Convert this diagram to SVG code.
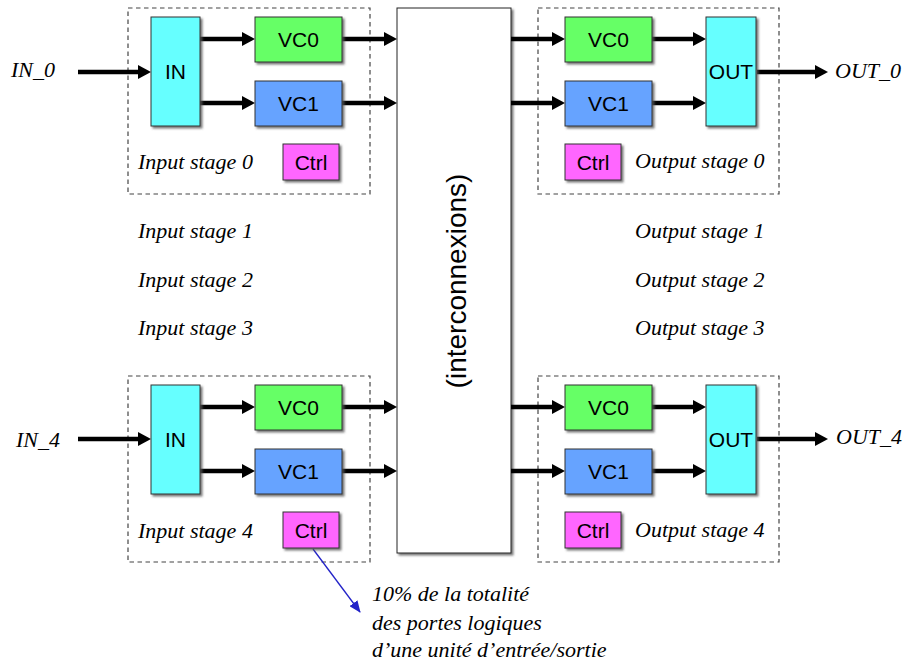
<svg xmlns="http://www.w3.org/2000/svg" width="904" height="662" viewBox="0 0 904 662">
<style>
.box{stroke:#333;stroke-width:1;filter:url(#sh)}
.in{fill:#66FFFF}
.vc0{fill:#66FF66}
.vc1{fill:#66A3FF}
.ctrl{fill:#FF66FF}
.ic{fill:#fff;stroke:#222;stroke-width:1;filter:url(#sh)}
.dash{fill:none;stroke:#444;stroke-width:1.2;stroke-dasharray:4.5,3.5}
.lbl{font-size:21px;fill:#000;text-anchor:middle;dominant-baseline:central}
.it{font-style:italic;font-size:22px;fill:#000}
.arr{stroke:#000;stroke-width:4.5;fill:none;marker-end:url(#ah)}
.note{stroke:#2323C8;stroke-width:1.3;fill:none;marker-end:url(#bh)}
</style>
<defs>
<filter id="sh" x="-20%" y="-20%" width="140%" height="140%">
<feDropShadow dx="2" dy="2" stdDeviation="1" flood-color="#555" flood-opacity="0.8"/>
</filter>
<marker id="ah" markerUnits="userSpaceOnUse" viewBox="0 0 13 14" markerWidth="13" markerHeight="14" refX="3" refY="7" orient="auto">
<path d="M0,0 L13,7 L0,14 z" fill="#000"/>
</marker>
<marker id="bh" markerUnits="userSpaceOnUse" viewBox="0 0 12 10" markerWidth="12" markerHeight="10" refX="11" refY="5" orient="auto">
<path d="M0,0 L12,5 L0,10 z" fill="#2323C8"/>
</marker>
</defs>
<rect width="904" height="662" fill="#fff"/>

<g id="stage-boxes">
<rect class="dash" x="128" y="8" width="242" height="186"/>
<rect class="dash" x="538" y="8" width="241" height="186"/>
<rect class="dash" x="128" y="376" width="242" height="186"/>
<rect class="dash" x="538" y="376" width="241" height="186"/>
</g>

<g id="interconnect" font-family="Liberation Sans, Arial, sans-serif">
<rect class="ic" x="397" y="8" width="114" height="545"/>
<text class="lbl" x="456" y="281" style="font-size:28px" transform="rotate(-90 456 281)">(interconnexions)</text>
</g>

<g id="connectors">
<line class="arr" x1="78" y1="72" x2="141" y2="72"/>
<line class="arr" x1="200" y1="39" x2="245" y2="39"/>
<line class="arr" x1="200" y1="103" x2="245" y2="103"/>
<line class="arr" x1="342" y1="39" x2="387" y2="39"/>
<line class="arr" x1="342" y1="103" x2="387" y2="103"/>
<line class="arr" x1="511" y1="39" x2="555" y2="39"/>
<line class="arr" x1="511" y1="103" x2="555" y2="103"/>
<line class="arr" x1="652" y1="39" x2="696" y2="39"/>
<line class="arr" x1="652" y1="103" x2="696" y2="103"/>
<line class="arr" x1="757" y1="72" x2="818" y2="72"/>

<line class="arr" x1="78" y1="439" x2="141" y2="439"/>
<line class="arr" x1="200" y1="407" x2="245" y2="407"/>
<line class="arr" x1="200" y1="471" x2="245" y2="471"/>
<line class="arr" x1="342" y1="407" x2="387" y2="407"/>
<line class="arr" x1="342" y1="471" x2="387" y2="471"/>
<line class="arr" x1="511" y1="407" x2="555" y2="407"/>
<line class="arr" x1="511" y1="471" x2="555" y2="471"/>
<line class="arr" x1="652" y1="407" x2="696" y2="407"/>
<line class="arr" x1="652" y1="471" x2="696" y2="471"/>
<line class="arr" x1="757" y1="439" x2="818" y2="439"/>

<line class="note" x1="313" y1="549" x2="360" y2="612"/>
</g>

<g id="nodes" font-family="Liberation Sans, Arial, sans-serif">
<g id="in0"><rect class="box in" x="151" y="17" width="49" height="109"/><text class="lbl" x="175.5" y="71.5">IN</text></g>
<g id="in0-vc0"><rect class="box vc0" x="255" y="17" width="87" height="45"/><text class="lbl" x="298.5" y="39.5">VC0</text></g>
<g id="in0-vc1"><rect class="box vc1" x="255" y="81" width="87" height="45"/><text class="lbl" x="298.5" y="103.5">VC1</text></g>
<g id="in0-ctrl"><rect class="box ctrl" x="283" y="144" width="56" height="36"/><text class="lbl" x="311" y="162">Ctrl</text></g>

<g id="out0-vc0"><rect class="box vc0" x="565" y="17" width="87" height="45"/><text class="lbl" x="608.5" y="39.5">VC0</text></g>
<g id="out0-vc1"><rect class="box vc1" x="565" y="81" width="87" height="45"/><text class="lbl" x="608.5" y="103.5">VC1</text></g>
<g id="out0"><rect class="box in" x="706" y="17" width="50" height="109"/><text class="lbl" x="731" y="71.5">OUT</text></g>
<g id="out0-ctrl"><rect class="box ctrl" x="565" y="144" width="56" height="36"/><text class="lbl" x="593" y="162">Ctrl</text></g>

<g id="in4"><rect class="box in" x="151" y="385" width="49" height="109"/><text class="lbl" x="175.5" y="439.5">IN</text></g>
<g id="in4-vc0"><rect class="box vc0" x="255" y="385" width="87" height="45"/><text class="lbl" x="298.5" y="407.5">VC0</text></g>
<g id="in4-vc1"><rect class="box vc1" x="255" y="449" width="87" height="45"/><text class="lbl" x="298.5" y="471.5">VC1</text></g>
<g id="in4-ctrl"><rect class="box ctrl" x="283" y="512" width="56" height="36"/><text class="lbl" x="311" y="530">Ctrl</text></g>

<g id="out4-vc0"><rect class="box vc0" x="565" y="385" width="87" height="45"/><text class="lbl" x="608.5" y="407.5">VC0</text></g>
<g id="out4-vc1"><rect class="box vc1" x="565" y="449" width="87" height="45"/><text class="lbl" x="608.5" y="471.5">VC1</text></g>
<g id="out4"><rect class="box in" x="706" y="385" width="50" height="109"/><text class="lbl" x="731" y="439.5">OUT</text></g>
<g id="out4-ctrl"><rect class="box ctrl" x="565" y="512" width="56" height="36"/><text class="lbl" x="593" y="530">Ctrl</text></g>
</g>

<g id="labels" font-family="Liberation Serif, Times New Roman, serif">
<text class="it" x="11" y="77">IN_0</text>
<text class="it" x="16" y="447">IN_4</text>
<text class="it" x="835" y="78">OUT_0</text>
<text class="it" x="836" y="444">OUT_4</text>
<text class="it" x="138" y="169">Input stage 0</text>
<text class="it" x="138" y="238">Input stage 1</text>
<text class="it" x="138" y="287">Input stage 2</text>
<text class="it" x="138" y="335">Input stage 3</text>
<text class="it" x="138" y="538">Input stage 4</text>
<text class="it" x="635" y="168">Output stage 0</text>
<text class="it" x="635" y="238">Output stage 1</text>
<text class="it" x="635" y="287">Output stage 2</text>
<text class="it" x="635" y="335">Output stage 3</text>
<text class="it" x="635" y="537">Output stage 4</text>
<text class="it" x="372" y="601">10% de la totalité</text>
<text class="it" x="372" y="630">des portes logiques</text>
<text class="it" x="372" y="657">d’une unité d’entrée/sortie</text>
</g>
</svg>
